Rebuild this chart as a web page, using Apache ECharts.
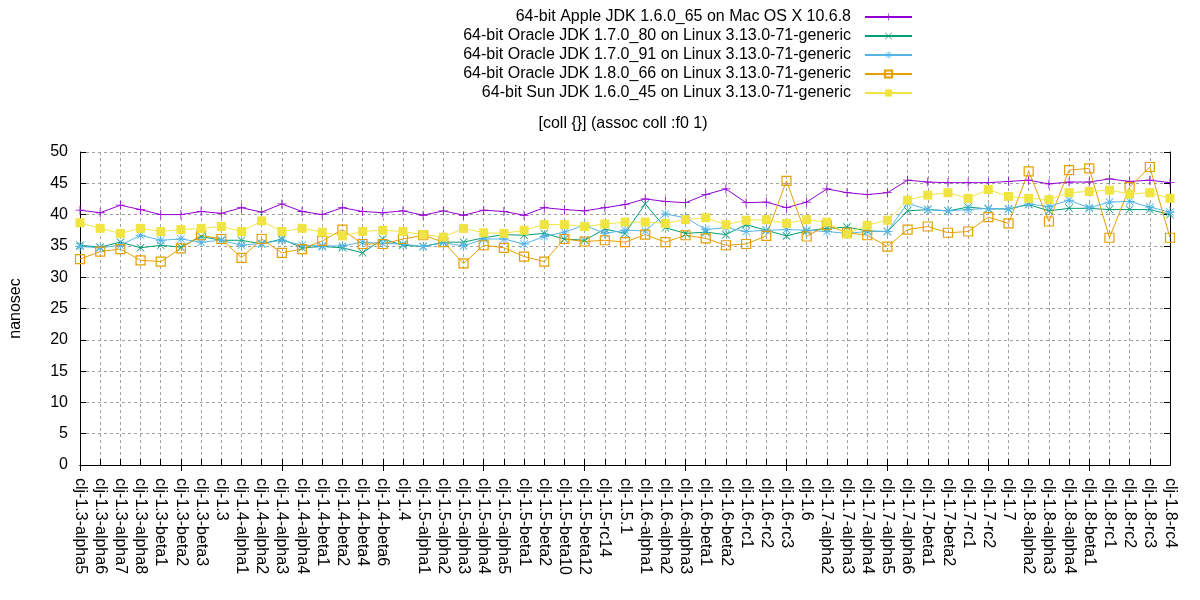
<!DOCTYPE html>
<html>
<head>
<meta charset="utf-8">
<script src="https://cdn.jsdelivr.net/npm/echarts@6/dist/echarts.min.js"></script>
<style>
  html, body { margin: 0; padding: 0; background: #fff; }
  #main { width: 1200px; height: 600px; }
</style>
</head>
<body>
<div id="main"></div>
<script>
// releases along the x axis
var versions = [
  'clj-1.3-alpha5', 'clj-1.3-alpha6', 'clj-1.3-alpha7', 'clj-1.3-alpha8', 'clj-1.3-beta1',
  'clj-1.3-beta2', 'clj-1.3-beta3', 'clj-1.3', 'clj-1.4-alpha1', 'clj-1.4-alpha2',
  'clj-1.4-alpha3', 'clj-1.4-alpha4', 'clj-1.4-beta1', 'clj-1.4-beta2', 'clj-1.4-beta4',
  'clj-1.4-beta6', 'clj-1.4', 'clj-1.5-alpha1', 'clj-1.5-alpha2', 'clj-1.5-alpha3',
  'clj-1.5-alpha4', 'clj-1.5-alpha5', 'clj-1.5-beta1', 'clj-1.5-beta2', 'clj-1.5-beta10',
  'clj-1.5-beta12', 'clj-1.5-rc14', 'clj-1.5.1', 'clj-1.6-alpha1', 'clj-1.6-alpha2',
  'clj-1.6-alpha3', 'clj-1.6-beta1', 'clj-1.6-beta2', 'clj-1.6-rc1', 'clj-1.6-rc2',
  'clj-1.6-rc3', 'clj-1.6', 'clj-1.7-alpha2', 'clj-1.7-alpha3', 'clj-1.7-alpha4',
  'clj-1.7-alpha5', 'clj-1.7-alpha6', 'clj-1.7-beta1', 'clj-1.7-beta2', 'clj-1.7-rc1',
  'clj-1.7-rc2', 'clj-1.7', 'clj-1.8-alpha2', 'clj-1.8-alpha3', 'clj-1.8-alpha4',
  'clj-1.8-beta1', 'clj-1.8-rc1', 'clj-1.8-rc2', 'clj-1.8-rc3', 'clj-1.8-rc4'
];

var seriesNames = [
  '64-bit Apple JDK 1.6.0_65 on Mac OS X 10.6.8',
  '64-bit Oracle JDK 1.7.0_80 on Linux 3.13.0-71-generic',
  '64-bit Oracle JDK 1.7.0_91 on Linux 3.13.0-71-generic',
  '64-bit Oracle JDK 1.8.0_66 on Linux 3.13.0-71-generic',
  '64-bit Sun JDK 1.6.0_45 on Linux 3.13.0-71-generic'
];

// nanosec per run
var apple1665 = [
  40.7, 40.3, 41.5, 40.8, 40.0, 40.0, 40.5, 40.2, 41.1, 40.4, 41.7, 40.5, 40.0, 41.1,
  40.5, 40.3, 40.6, 39.9, 40.6, 39.9, 40.7, 40.5, 39.9, 41.1, 40.8, 40.6, 41.1, 41.6,
  42.5, 42.1, 41.9, 43.2, 44.1, 41.9, 42.0, 41.1, 42.0, 44.1, 43.5, 43.2, 43.5,
  45.5, 45.2, 45.1, 45.1, 45.1, 45.3, 45.5, 44.9, 45.2, 45.2, 45.7, 45.3, 45.5, 45.1
];
var oracle1780 = [
  35.1, 34.8, 35.6, 34.7, 35.1, 34.8, 36.5, 35.9, 35.9, 35.3, 36.1, 34.7, 34.9, 34.7,
  33.9, 36.1, 35.1, 34.9, 35.6, 35.6, 36.3, 36.8, 36.7, 37.0, 36.1, 35.9, 37.7, 37.0,
  41.7, 37.9, 37.0, 37.2, 36.8, 38.4, 37.5, 36.6, 37.4, 37.8, 38.0, 37.4, 37.3,
  40.6, 40.8, 40.6, 41.2, 40.9, 40.9, 41.6, 40.6, 41.0, 41.0, 40.8, 40.8, 40.8, 40.0
];
var oracle1791 = [
  34.9, 34.7, 35.1, 36.7, 35.9, 36.1, 35.6, 35.9, 35.1, 35.4, 35.9, 35.1, 35.0, 35.0,
  35.6, 35.4, 35.3, 34.9, 35.5, 35.0, 36.1, 36.1, 35.3, 36.5, 37.2, 38.3, 37.0, 37.5,
  37.4, 40.1, 39.5, 37.6, 37.9, 37.3, 37.5, 37.6, 37.5, 37.3, 37.0, 37.3, 37.3,
  41.8, 40.8, 40.6, 40.8, 41.0, 40.9, 41.7, 41.3, 42.3, 41.1, 42.0, 42.1, 41.2, 40.4
];
var oracle1866 = [
  32.9, 34.1, 34.5, 32.7, 32.5, 34.6, 36.7, 36.1, 33.1, 36.1, 33.9, 34.5, 35.8, 37.6,
  35.3, 35.3, 36.1, 36.7, 35.6, 32.2, 35.1, 34.7, 33.3, 32.5, 36.1, 35.7, 35.9, 35.6,
  36.8, 35.6, 36.7, 36.2, 35.1, 35.3, 36.6, 45.4, 36.5, 38.3, 37.1, 36.7, 34.9,
  37.6, 38.1, 37.1, 37.3, 39.6, 38.6, 46.9, 38.9, 47.1, 47.4, 36.3, 44.4, 47.6, 36.3
];
var sun1645 = [
  38.7, 37.8, 37.0, 37.8, 37.3, 37.6, 37.8, 38.1, 37.3, 39.0, 37.3, 37.8, 37.2, 36.6,
  37.3, 37.5, 37.3, 36.8, 36.4, 37.8, 37.1, 37.0, 37.5, 38.4, 38.4, 38.1, 38.5, 38.8,
  38.8, 38.6, 39.2, 39.5, 38.4, 39.1, 39.2, 38.6, 39.2, 38.8, 36.9, 38.3, 39.1,
  42.3, 43.1, 43.5, 42.6, 44.0, 42.9, 42.6, 42.4, 43.5, 43.7, 43.9, 43.3, 43.5, 42.6
];

var yTicks = { min: 0, max: 50, interval: 5 };

// gnuplot-like point glyphs
var plusPath = 'path://M-0.09,-1H0.09V-0.09H1V0.09H0.09V1H-0.09V0.09H-1V-0.09H-0.09Z';
var crossPath = 'path://M-1,-0.87L-0.87,-1L0,-0.13L0.87,-1L1,-0.87L0.13,0L1,0.87L0.87,1L0,0.13L-0.87,1L-1,0.87L-0.13,0Z';
var starPath = 'path://M-0.09,-1H0.09V-0.09H1V0.09H0.09V1H-0.09V0.09H-1V-0.09H-0.09Z' +
  'M-0.8,-0.68L-0.68,-0.8L0,-0.12L0.68,-0.8L0.8,-0.68L0.12,0L0.8,0.68L0.68,0.8L0,0.12L-0.68,0.8L-0.8,0.68L-0.12,0Z';

var font = 'Liberation Sans, Arial, sans-serif';

function makeLine(name, data, color, symbol, size, hollow) {
  return {
    name: name,
    type: 'line',
    data: data,
    symbol: symbol,
    symbolSize: size,
    showAllSymbol: true,
    lineStyle: { color: color, width: 1 },
    itemStyle: hollow
      ? { color: 'rgba(0,0,0,0)', borderColor: color, borderWidth: 1.2 }
      : { color: color, borderWidth: 0 },
    emphasis: { disabled: true },
    animation: false
  };
}

var chart = echarts.init(document.getElementById('main'));
chart.setOption({
  animation: false,
  title: {
    text: '[coll {}] (assoc coll :f0 1)',
    left: 623,
    textAlign: 'center',
    top: 116,
    padding: 0,
    textStyle: { fontFamily: font, fontSize: 16, fontWeight: 'normal', color: '#000' }
  },
  legend: {
    orient: 'vertical',
    align: 'right',
    right: 287,
    top: 9,
    padding: 0,
    itemWidth: 47,
    itemHeight: 9,
    itemGap: 3,
    textStyle: { fontFamily: font, fontSize: 16, lineHeight: 16, color: '#000', padding: [0, 9, 0, 0] },
    data: seriesNames
  },
  grid: { left: 80, right: 30, top: 152, bottom: 135, containLabel: false },
  xAxis: [{
    type: 'category',
    data: versions,
    boundaryGap: false,
    axisLine: { lineStyle: { color: '#000', width: 1 } },
    axisTick: { inside: true, length: 6, alignWithLabel: true, lineStyle: { color: '#000' } },
    axisLabel: { rotate: -90, interval: 0, margin: 13, fontFamily: font, fontSize: 16, color: '#000' },
    splitLine: { show: true, lineStyle: { color: '#a0a0a0', type: [3, 3], width: 1 } }
  }, {
    type: 'category',
    data: versions,
    boundaryGap: false,
    position: 'top',
    axisLine: { lineStyle: { color: '#000', width: 1 } },
    axisTick: { inside: true, length: 6, lineStyle: { color: '#000' } },
    axisLabel: { show: false },
    splitLine: { show: false }
  }],
  yAxis: [{
    type: 'value',
    min: yTicks.min,
    max: yTicks.max,
    interval: yTicks.interval,
    name: 'nanosec',
    nameLocation: 'middle',
    nameGap: 56,
    nameRotate: 90,
    nameTextStyle: { fontFamily: font, fontSize: 16, color: '#000' },
    axisLine: { show: true, lineStyle: { color: '#000', width: 1 } },
    axisTick: { show: true, inside: true, length: 6, lineStyle: { color: '#000' } },
    axisLabel: { margin: 12, fontFamily: font, fontSize: 16, color: '#000' },
    splitLine: { show: true, lineStyle: { color: '#a0a0a0', type: [3, 3], width: 1 } }
  }, {
    type: 'value',
    min: yTicks.min,
    max: yTicks.max,
    interval: yTicks.interval,
    position: 'right',
    axisLine: { show: true, lineStyle: { color: '#000', width: 1 } },
    axisTick: { show: true, inside: true, length: 6, lineStyle: { color: '#000' } },
    axisLabel: { show: false },
    splitLine: { show: false }
  }],
  series: [
    makeLine(seriesNames[0], apple1665, '#9400d3', plusPath, 9, false),
    makeLine(seriesNames[1], oracle1780, '#009e73', crossPath, 8, false),
    makeLine(seriesNames[2], oracle1791, '#56b4e9', starPath, 10, false),
    makeLine(seriesNames[3], oracle1866, '#e69f00', 'rect', 9, true),
    makeLine(seriesNames[4], sun1645, '#f0e442', 'rect', 9, false)
  ]
});
</script>
</body>
</html>
